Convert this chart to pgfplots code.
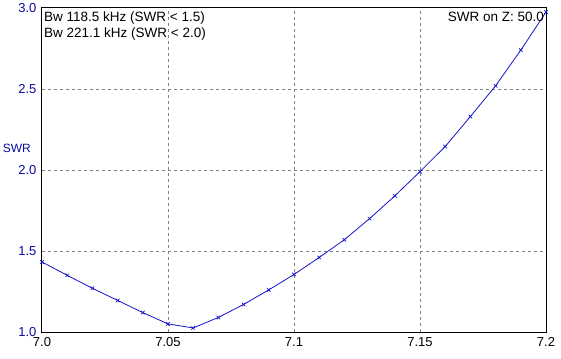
\documentclass[border=0pt]{standalone}
\usepackage{pgfplots}
\pgfplotsset{compat=1.18}
\usepackage{fontspec}
\setmainfont{Liberation Sans}
\definecolor{curveblue}{RGB}{20,20,200}
\definecolor{labblue}{RGB}{10,10,160}
\definecolor{gridgray}{RGB}{128,128,128}
\begin{document}
\begin{tikzpicture}
\fontsize{13bp}{15bp}\selectfont
\begin{axis}[
  at={(0,0)}, anchor=south west,
  scale only axis, width=504bp, height=324bp,
  xmin=7.0, xmax=7.2, ymin=1.0, ymax=3.0,
  xtick={7.05,7.1,7.15},
  xticklabels={7.05,7.1,7.15},
  extra x ticks={7.0,7.2},
  extra x tick labels={7.0,7.2},
  extra x tick style={grid=none},
  ytick={1.5,2.0,2.5},
  yticklabels={1.5,2.0,2.5},
  extra y ticks={1.0,3.0},
  extra y tick labels={1.0,3.0},
  extra y tick style={grid=none},
  major tick length=0pt,
  grid=major,
  major grid style={gridgray, dash pattern=on 3bp off 3bp, line width=0.7bp},
  axis line style={black, line width=1bp},
  tick label style={font=\fontsize{13bp}{15bp}\selectfont},
  /pgf/number format/assume math mode=true,
  yticklabel style={labblue, xshift=-1bp},
  xticklabel style={black, yshift=-1bp},
  ylabel={SWR},
  ylabel style={rotate=-90, labblue, inner sep=0pt, font=\fontsize{12bp}{14bp}\selectfont, at={(rel axis cs:0,0.568)}, anchor=east, xshift=-11bp},
]
\addplot[curveblue, line width=0.8bp, mark=x, mark size=2.5bp, mark options={line width=0.7bp}] coordinates {
(7.00,1.432) (7.01,1.350) (7.02,1.270) (7.03,1.195) (7.04,1.120)
(7.05,1.050) (7.06,1.025) (7.07,1.090) (7.08,1.170) (7.09,1.260)
(7.10,1.355) (7.11,1.460) (7.12,1.570) (7.13,1.700) (7.14,1.840)
(7.15,1.990) (7.16,2.145) (7.17,2.330) (7.18,2.520) (7.19,2.740)
(7.20,2.975)
};
\node[anchor=north west, align=left, inner sep=0pt, font=\fontsize{13.5bp}{16bp}\selectfont] at (rel axis cs:0,1) [xshift=2bp, yshift=-4bp] {Bw 118.5 kHz (SWR < 1.5)\\Bw 221.1 kHz (SWR < 2.0)};
\node[anchor=north east, inner sep=0pt, font=\fontsize{13.5bp}{16bp}\selectfont] at (rel axis cs:1,1) [xshift=-2bp, yshift=-4bp] {SWR on Z: 50.0};
\end{axis}
\pgfresetboundingbox
\useasboundingbox (-42bp,-27bp) rectangle (519bp,332bp);
\end{tikzpicture}
\end{document}
